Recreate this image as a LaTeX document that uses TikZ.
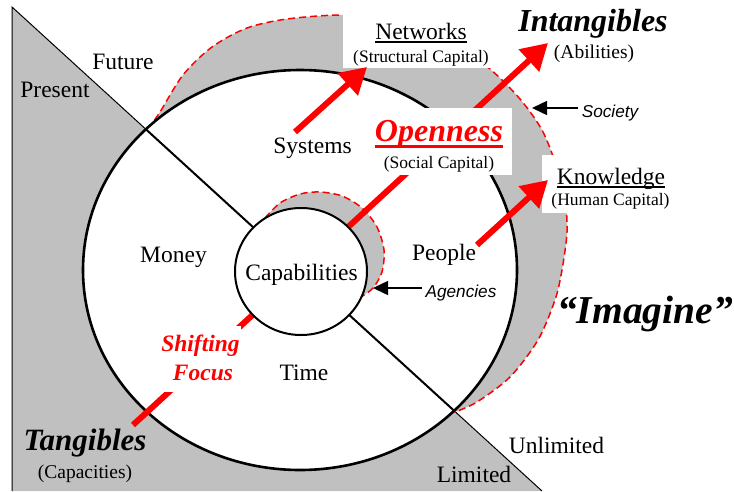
\documentclass[tikz,border=0pt]{standalone}
\usepackage{fontspec}
\setmainfont{Liberation Serif}
\newfontfamily\arialfont{Liberation Sans}
\usetikzlibrary{arrows.meta}
\definecolor{ringgray}{RGB}{192,192,192}
\definecolor{ptred}{RGB}{255,0,0}
\begin{document}
\begin{tikzpicture}[x=1pt,y=-1pt,
  lbl/.style={inner sep=0pt, anchor=base},
  mainlbl/.style={lbl, font=\fontsize{23.5}{28}\selectfont},
  caplbl/.style={lbl, font=\fontsize{17.5}{20}\selectfont},
  midcap/.style={lbl, font=\fontsize{19.5}{22}\selectfont},
  biglbl/.style={lbl, font=\fontsize{32}{36}\selectfont\bfseries\itshape},
  sanslbl/.style={lbl, font=\fontsize{17.2}{20}\selectfont\arialfont\itshape},
  bigarrow/.style={draw=ptred, line width=6pt, -{Triangle[length=26pt,width=29pt]}},
  smallarrow/.style={draw=black, line width=1.5pt, -{Triangle[length=15pt,width=14pt]}},
  ringedge/.style={draw=ptred, line width=1.5pt, dash pattern=on 7pt off 4pt, fill=ringgray},
  ulline/.style={line width=1.8pt}
]
\useasboundingbox (0,0) rectangle (734,491);

% present / limited field below the time line
\fill[ringgray] (12,7) -- (542,491) -- (12,491) -- cycle;
\draw[line width=1pt] (12,491) -- (12,7) -- (542,491);

% outer (society) ring
\draw[ringedge] plot[smooth] coordinates {(148,129) (160,112) (183,75) (212,47) (247,28) (287,19) (343,15) (400,20) (450,40) (490,69) (520,99) (542,130) (556,165) (565,200) (567,232) (562,270) (555,300) (538,340) (510,377) (477,402) (455,412)} -- cycle;

% main circle
\draw[line width=2.6pt, fill=white] (300,270) ellipse [x radius=217pt, y radius=200pt];
\coordinate (diagA) at (145.8,129.2);
\coordinate (diagB) at (454.2,410.8);
\draw[line width=2pt] (diagA) -- (diagB);

% inner (agencies) ring
\draw[ringedge] plot[smooth] coordinates {(265,218) (280,203) (300,194) (320,192) (342,196) (362,208) (377,227) (384,250) (382,272) (373,288) (361,297)} -- cycle;

% shifting focus arrow
\coordinate (focusTail) at (133,425);
\coordinate (focusTip) at (548,43);
\draw[bigarrow] (focusTail) -- (focusTip);

% core circle
\draw[line width=2pt, fill=white] (301,271.5) ellipse [x radius=66pt, y radius=63.5pt];

% label backgrounds
\fill[white] (343,6) rectangle (493,68);
\fill[white] (368,108) rectangle (512,175);
\fill[white] (542,155) rectangle (676,213);
\node[fill=white, minimum width=81pt, minimum height=66pt, inner sep=0pt] (focusmask) at (200.5,359) {};

% growth arrows
\coordinate (sysTail) at (295,132);
\coordinate (sysTip) at (367,67);
\draw[bigarrow] (sysTail) -- (sysTip);
\coordinate (pplTail) at (477,245);
\coordinate (pplTip) at (548,180);
\draw[bigarrow] (pplTail) -- (pplTip);

% pointers to the rings
\coordinate (socTail) at (578,108);
\coordinate (socTip) at (532,108);
\draw[smallarrow] (socTail) -- (socTip);
\coordinate (agTail) at (422,288);
\coordinate (agTip) at (373,288);
\draw[smallarrow] (agTail) -- (agTip);

% labels
\node[mainlbl] (present) at (55,97) {Present};
\node[mainlbl] (future) at (123,69) {Future};
\node[mainlbl] (systems) at (312.5,153) {Systems};
\node[mainlbl] (money) at (173.5,262) {Money};
\node[mainlbl] (capab) at (301.5,280) {Capabilities};
\node[mainlbl] (time) at (304,380) {Time};
\node[mainlbl] (people) at (444,260.5) {People};
\node[mainlbl] (unlim) at (556.5,453) {Unlimited};
\node[mainlbl] (limited) at (474,482.5) {Limited};

\node[lbl, font=\fontsize{31}{34}\selectfont\bfseries\itshape] (tang) at (85,450) {Tangibles};
\node[midcap] (capac) at (85,478) {(Capacities)};

\node[lbl, text=ptred, font=\fontsize{23.5}{28}\selectfont\bfseries\itshape] (shift) at (200.5,351.7) {Shifting};
\node[lbl, text=ptred, font=\fontsize{23.5}{28}\selectfont\bfseries\itshape] (focus) at (203,380) {Focus};

\node[biglbl, text=ptred] (open) at (439,141.7) {Openness};
\draw[ulline, ptred, line width=3pt] ([yshift=-4.8pt]open.base west) -- ([yshift=-4.8pt]open.base east);
\node[caplbl] (social) at (439,168) {(Social Capital)};

\node[mainlbl] (netw) at (421,39.3) {Networks};
\draw[ulline] ([yshift=-2.6pt]netw.base west) -- ([yshift=-2.6pt]netw.base east);
\node[caplbl] (struct) at (421,62.7) {(Structural Capital)};

\node[biglbl] (intang) at (593,31.7) {Intangibles};
\node[midcap] (abil) at (594,58) {(Abilities)};

\node[mainlbl] (know) at (611,184) {Knowledge};
\draw[ulline] ([yshift=-2.6pt]know.base west) -- ([yshift=-2.6pt]know.base east);
\node[caplbl] (human) at (610.5,205) {(Human Capital)};

\node[sanslbl] (society) at (610,117) {Society};
\node[sanslbl] (agencies) at (461,297.3) {Agencies};

\node[lbl, font=\fontsize{39.5}{44}\selectfont\bfseries\itshape] (imagine) at (645,323.3) {“Imagine”};
\end{tikzpicture}
\end{document}
